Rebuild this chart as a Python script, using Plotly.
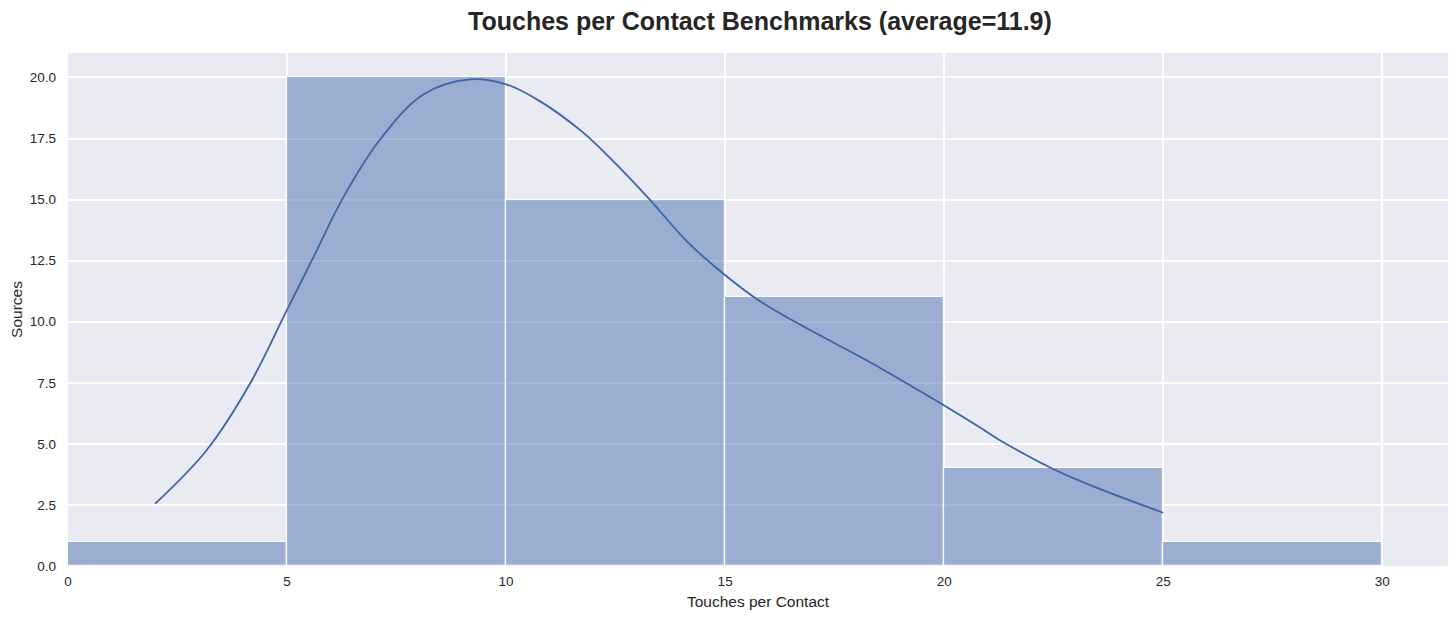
import plotly.graph_objects as go

# Histogram bins (left edges) and counts
bin_left = [0, 5, 10, 15, 20, 25]
bin_width = 5
counts = [1, 20, 15, 11, 4, 1]

# KDE curve
kde_x = [1.99, 3.16, 4.15, 4.99, 5.60, 6.28, 7.12, 8.11, 9.17, 10.0, 10.77, 11.72, 12.37,
         13.28, 14.12, 14.99, 15.72, 16.48, 17.47, 18.38, 19.29, 20.0, 20.81, 21.27, 22.56,
         23.55, 25.0]
kde_y = [2.55, 4.73, 7.45, 10.45, 12.63, 15.08, 17.45, 19.3, 19.92, 19.72, 19.03, 17.8, 16.71,
         15.0, 13.3, 11.92, 10.93, 10.11, 9.15, 8.27, 7.32, 6.57, 5.68, 5.15, 3.91,
         3.16, 2.18]

x_ticks = [0, 5, 10, 15, 20, 25, 30]
y_ticks = [0, 2.5, 5, 7.5, 10, 12.5, 15, 17.5, 20]

title = "Touches per Contact Benchmarks (average=11.9)"
x_title = "Touches per Contact"
y_title = "Sources"

FONT = "Liberation Sans, Arial, sans-serif"

fig = go.Figure()
fig.add_trace(go.Bar(
    x=[b + bin_width / 2 for b in bin_left],
    y=counts,
    width=bin_width,
    marker=dict(color="rgba(76,114,176,0.5)", line=dict(color="rgba(255,255,255,0.9)", width=1.2)),
    hoverinfo="x+y",
    showlegend=False,
))
fig.add_trace(go.Scatter(
    x=kde_x, y=kde_y, mode="lines",
    line=dict(color="#3d64a8", width=1.8, shape="spline", smoothing=1.0),
    showlegend=False,
))

fig.update_layout(
    width=1440, height=602,
    margin=dict(l=60, r=0, t=45, b=44, autoexpand=False),
    paper_bgcolor="white",
    plot_bgcolor="#eaeaf2",
    bargap=0,
    font=dict(family=FONT, size=14, color="#262626"),
    title=dict(text="<b>" + title + "</b>", x=0.5222, xanchor="center", y=0.992, yanchor="top",
               pad=dict(t=0, b=0), font=dict(family=FONT, size=25, color="#262626")),
)
fig.update_xaxes(
    range=[0, 31.5], tickvals=x_ticks, ticktext=[str(v) for v in x_ticks],
    showgrid=True, gridcolor="white", gridwidth=1.5, zeroline=False, showline=False,
    ticks="", ticklen=0, tickfont=dict(size=13.5), ticklabelstandoff=5, automargin=False,
    title=dict(text=x_title, font=dict(size=15.5), standoff=9),
)
fig.update_yaxes(
    range=[0, 21], tickvals=y_ticks, ticktext=[f"{v:.1f}" for v in y_ticks],
    showgrid=True, gridcolor="white", gridwidth=1.5, zeroline=False, showline=False,
    ticks="", ticklen=0, tickfont=dict(size=13.5), ticklabelstandoff=11, automargin=False,
    title=dict(text=y_title, font=dict(size=15.5), standoff=6),
)

fig.write_html("out.html")
